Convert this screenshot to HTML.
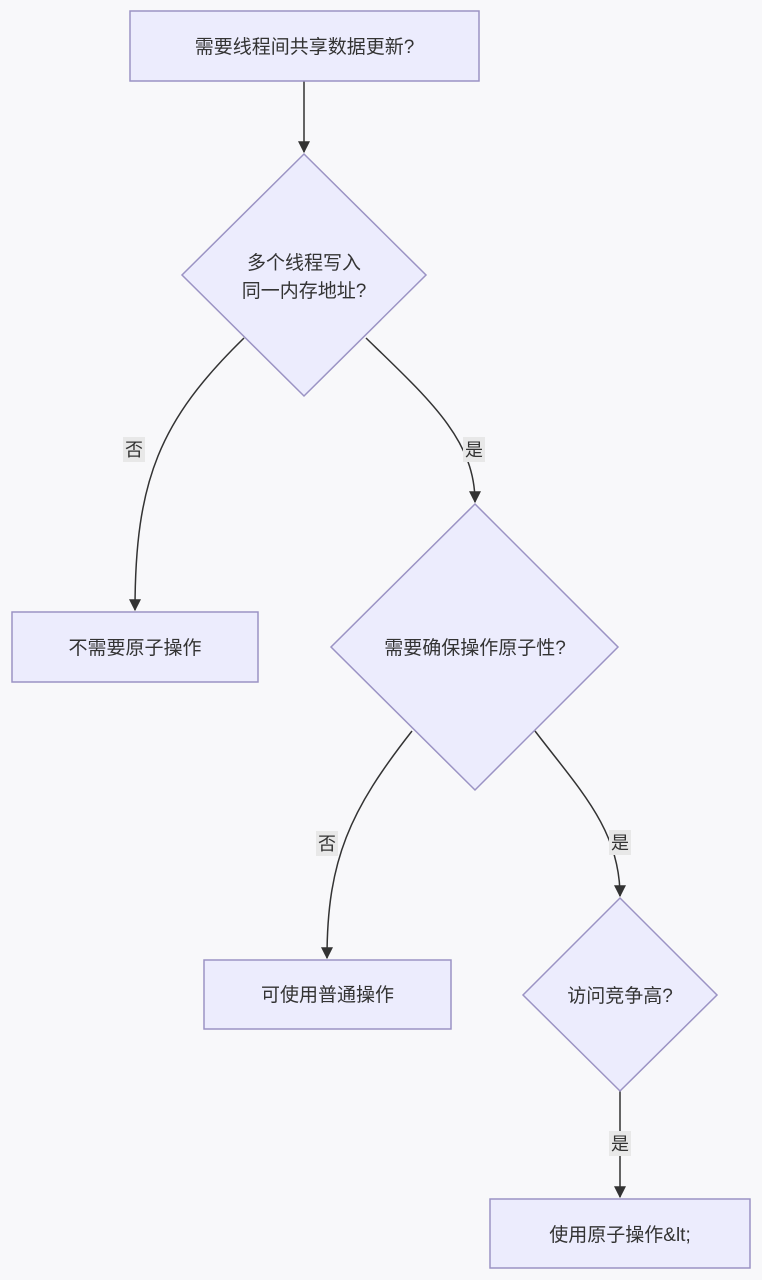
<!DOCTYPE html>
<html><head><meta charset="utf-8"><style>
html,body{margin:0;padding:0;background:#f8f8fa;}
svg{display:block;}
text{font-family:"Liberation Sans","Noto Sans CJK SC",sans-serif;fill:#333;}
.n{fill:#ececfd;stroke:#9b93c4;stroke-width:1.5;}
.e{fill:none;stroke:#333;stroke-width:1.5;}
.lb{fill:#e8e8e8;}
</style></head><body>
<svg width="762" height="1280" viewBox="0 0 762 1280" xmlns="http://www.w3.org/2000/svg">
<defs><marker id="a" viewBox="0 0 10 10" refX="9" refY="5" markerWidth="8" markerHeight="8" orient="auto"><path d="M0,0L10,5L0,10z" fill="#333"/></marker></defs>
<!-- edges -->
<path class="e" d="M304,81 L304,152" marker-end="url(#a)"/>
<path class="e" d="M244,338 C160,420 135,480 135,610" marker-end="url(#a)"/>
<path class="e" d="M366,338 C430,400 475,440 475,502" marker-end="url(#a)"/>
<path class="e" d="M412,731 C350,810 327,860 327,958" marker-end="url(#a)"/>
<path class="e" d="M535,731 C580,790 620,830 620,896" marker-end="url(#a)"/>
<path class="e" d="M620,1091 L620,1197" marker-end="url(#a)"/>
<!-- labels -->
<rect class="lb" x="123" y="437" width="22" height="25"/><text x="134" y="456" font-size="18" text-anchor="middle">否</text>
<rect class="lb" x="463" y="437" width="22" height="25"/><text x="474" y="456" font-size="18" text-anchor="middle">是</text>
<rect class="lb" x="316" y="831" width="22" height="25"/><text x="327" y="850" font-size="18" text-anchor="middle">否</text>
<rect class="lb" x="609" y="830" width="22" height="25"/><text x="620" y="849" font-size="18" text-anchor="middle">是</text>
<rect class="lb" x="609" y="1131" width="22" height="25"/><text x="620" y="1150" font-size="18" text-anchor="middle">是</text>
<!-- nodes -->
<rect class="n" x="130" y="11" width="349" height="70"/>
<text x="304.5" y="53" font-size="19" text-anchor="middle">需要线程间共享数据更新?</text>
<polygon class="n" points="304,154 426,275 304,396 182,275"/>
<text x="304" y="269" font-size="19" text-anchor="middle">多个线程写入</text>
<text x="304" y="297" font-size="19" text-anchor="middle">同一内存地址?</text>
<rect class="n" x="12" y="612" width="246" height="70"/>
<text x="135" y="654" font-size="19" text-anchor="middle">不需要原子操作</text>
<polygon class="n" points="475,504 618,647 475,790 331,647"/>
<text x="475" y="654" font-size="19" text-anchor="middle">需要确保操作原子性?</text>
<rect class="n" x="204" y="960" width="247" height="69"/>
<text x="327.5" y="1001" font-size="19" text-anchor="middle">可使用普通操作</text>
<polygon class="n" points="620,898 717,995 620,1091 523,995"/>
<text x="620" y="1002" font-size="19" text-anchor="middle">访问竞争高?</text>
<rect class="n" x="490" y="1199" width="260" height="69"/>
<text x="620" y="1241" font-size="19" text-anchor="middle">使用原子操作&amp;lt;</text>
</svg>
</body></html>
